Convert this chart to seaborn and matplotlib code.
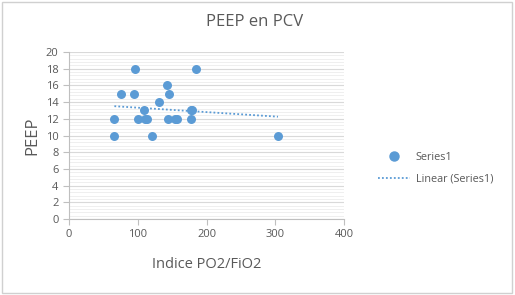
import numpy as np
import pandas as pd
import matplotlib
matplotlib.use("Agg")
import matplotlib.pyplot as plt
import seaborn as sns
from matplotlib.lines import Line2D
from matplotlib.patches import Rectangle

x_vals = [66, 66, 76, 95, 96, 100, 109, 110, 113, 120, 131, 143, 145, 144, 154, 157, 178, 179, 178, 185, 304]
y_vals = [10, 12, 15, 15, 18, 12, 13, 12, 12, 10, 14, 16, 15, 12, 12, 12, 13, 13, 12, 18, 10]
x_ticks = [0, 100, 200, 300, 400]
y_ticks = [0, 2, 4, 6, 8, 10, 12, 14, 16, 18, 20]

df = pd.DataFrame({"x": x_vals, "y": y_vals})

sns.set_style("white")
plt.rcParams['font.family'] = ['Open Sans', 'DejaVu Sans']
gray = "#595959"
blue = "#5B9BD5"

fig = plt.figure(figsize=(5.15, 2.95), dpi=100)
ax = fig.add_axes([69/515, 1-219/295, (344-69)/515, (219-52)/295])

sns.scatterplot(data=df, x="x", y="y", ax=ax, color=blue, s=42, edgecolor=blue, linewidth=0, zorder=3)

coef = np.polyfit(df["x"], df["y"], 1)
xl = np.array([min(x_vals), max(x_vals)])
ax.plot(xl, np.polyval(coef, xl), linestyle=(0, (1, 1.2)), color=blue, lw=1.3, zorder=2)

ax.set_xlim(0, 400)
ax.set_ylim(0, 20)
ax.set_xticks(x_ticks)
ax.set_yticks(y_ticks)
ax.set_yticks(np.arange(0, 20, 0.4), minor=True)
ax.grid(True, which="major", axis="y", color="#d9d9d9", lw=0.8)
ax.grid(True, which="minor", axis="y", color="#ececec", lw=0.6)
ax.set_axisbelow(True)
for s in ["top", "right"]:
    ax.spines[s].set_visible(False)
ax.spines["left"].set_color("#bfbfbf")
ax.spines["bottom"].set_color("#bfbfbf")
ax.tick_params(axis="both", which="major", length=4, color="#bfbfbf", labelsize=8, labelcolor=gray, direction="out")
ax.tick_params(axis="y", which="minor", length=0)
ax.xaxis.set_ticks_position("bottom")
ax.yaxis.set_ticks_position("left")

ax.set_xlabel("Indice PO2/FiO2", fontsize=10.5, color=gray, labelpad=12)
ax.set_ylabel("PEEP", fontsize=12, color=gray, labelpad=4)
fig.text(255/515, 1-22/295, "PEEP en PCV", ha="center", va="center", fontsize=12, color=gray)

handles = [
    Line2D([], [], marker="o", linestyle="none", color=blue, markersize=6.5),
    Line2D([], [], linestyle=(0, (1, 1.2)), color=blue, lw=1.3),
]
fig.legend(handles, ["Series1", "Linear (Series1)"], loc="center left",
           bbox_to_anchor=(368/515, 1-168/295), frameon=False, fontsize=7.8,
           labelcolor=gray, handlelength=3.0, handletextpad=0.5, labelspacing=1.0)

fig.patches.append(Rectangle((0.004, 0.006), 0.99, 0.988, transform=fig.transFigure,
                             fill=False, edgecolor="#d0d0d0", lw=1))

fig.savefig("out.png", dpi=100)
